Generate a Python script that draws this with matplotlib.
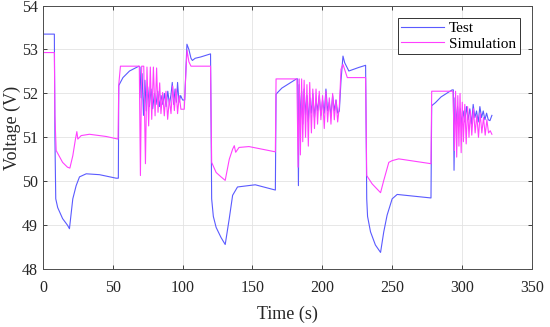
import matplotlib.pyplot as plt

plt.rcParams['font.family'] = ['Liberation Serif', 'DejaVu Serif']

test_t = [0, 8.2, 8.6, 9.2, 10.6, 14.1, 17.6, 19.0, 21.4, 23.8, 26.2, 31.0, 40.5, 52.4, 54.0,
          54.3, 57.3, 62.0, 68.7,
          69.5, 70.3, 71.0, 72.0, 73.0, 74.0, 75.0, 76.2, 77.4, 78.6, 79.8, 81.0, 82.2, 83.4,
          84.6, 85.8, 87.0, 88.2, 89.4, 90.6, 91.8, 92.6, 93.6, 94.6, 95.6, 96.4, 97.4, 98.6,
          100.0, 101.5,
          102.3, 103.1, 104.5, 106.0, 107.0, 109.0, 113.0, 117.0, 120.0,
          120.8, 122.0, 124.0, 127.5, 130.5, 133.4, 135.8, 139.3, 152.0, 166.4,
          166.9, 168.0, 171.0, 176.0, 181.5,
          182.4, 182.9, 183.5, 184.3, 185.2, 186.0, 187.0, 188.0, 189.0, 190.0,
          191.0, 192.2, 193.2, 194.4, 195.5, 196.6, 197.8, 199.0, 200.2, 201.4,
          202.6, 203.8, 205.0, 206.2, 207.4, 208.6, 209.8, 211.0, 212.2,
          213.4, 214.8, 216.0, 219.0, 226.0, 231.0,
          231.8, 232.4, 234.5, 238.0, 241.7, 244.0, 246.4, 250.0, 253.6, 259.5, 277.8,
          278.3, 281.0, 285.0, 289.0, 292.9,
          293.8, 294.3, 295.0, 295.8, 296.8, 297.8, 298.8, 299.8, 300.8, 302.0, 303.2, 304.4,
          305.6, 306.8, 308.0, 309.2, 310.4, 311.6, 312.8, 314.0, 315.2, 316.4, 317.6, 318.8,
          320.0, 321.4]
test_v = [53.35, 53.35, 51.0, 49.6, 49.4, 49.15, 49.0, 48.92, 49.6, 49.9, 50.1, 50.17, 50.15, 50.07, 50.07,
          52.18, 52.36, 52.51, 52.62,
          52.6, 51.9, 52.45, 51.5, 52.3, 51.6, 52.15, 51.7, 52.1, 51.65, 52.0, 51.75, 52.05, 51.7,
          51.95, 51.75, 52.0, 51.7, 52.05, 51.75, 52.0, 52.25, 51.75, 52.1, 51.8, 52.25, 51.8, 51.95,
          51.85, 51.85,
          52.5, 53.12, 53.0, 52.8, 52.75, 52.8, 52.83, 52.87, 52.9,
          49.6, 49.2, 48.95, 48.72, 48.56, 49.15, 49.68, 49.87, 49.92, 49.8,
          51.98, 52.02, 52.12, 52.22, 52.33,
          52.33, 49.9, 52.2, 51.4, 52.05, 51.3, 52.1, 51.5, 51.95, 51.35,
          51.9, 51.55, 52.0, 51.45, 51.85, 51.6, 51.95, 51.5, 51.85, 51.55,
          52.1, 51.6, 51.8, 51.5, 51.95, 51.6, 51.85, 51.55, 51.6,
          52.3, 52.85, 52.7, 52.51, 52.59, 52.64,
          49.6, 49.2, 48.85, 48.55, 48.38, 48.85, 49.23, 49.6, 49.7, 49.68, 49.62,
          51.72, 51.79, 51.92, 52.0, 52.08,
          52.08, 50.25, 51.9, 51.3, 51.7, 51.25, 51.65, 51.3, 51.6, 51.35, 51.7, 51.4,
          51.65, 51.3, 51.75, 51.45, 51.6, 51.35, 51.7, 51.45, 51.6, 51.4, 51.55, 51.4,
          51.38, 51.5]

# Simulation voltage
sim_t = [0, 8.2, 8.6, 9.5, 14.1, 17.6, 19.3, 21.4, 23.3, 24.3, 25.0, 27.4, 33.3, 45.2, 53.8,
         54.3, 55.5, 69.0,
         69.8, 70.7, 72.2, 73.4, 74.5, 75.7, 76.9, 77.9, 79.1, 80.3, 81.4, 82.4, 83.6, 84.5,
         85.7, 86.9, 88.1, 89.3, 90.5, 91.7, 92.9, 94.1, 95.3, 96.4, 97.6, 98.8, 101.2,
         102.5, 103.2, 104.5, 106.0, 120.0,
         120.8, 124.0, 127.5, 130.5, 133.4, 135.8, 137.0, 138.0, 140.4, 147.5, 166.4,
         166.9, 181.8,
         182.7, 183.5, 184.3, 185.2, 186.0, 187.0, 188.0, 189.0, 190.0, 191.0, 192.2, 193.2,
         194.4, 195.5, 196.6, 197.8, 199.0, 200.2, 201.4, 202.6, 203.8, 205.0, 206.2, 207.4,
         208.6, 209.8, 211.0, 212.2,
         213.4, 214.8, 217.9, 231.0,
         231.8, 232.4, 235.7, 241.7, 244.0, 247.6, 250.0, 254.7, 277.8,
         278.3, 293.5,
         294.6, 295.4, 296.2, 297.0, 297.8, 298.6, 299.4, 300.2, 301.0, 302.0, 303.0, 304.0,
         305.0, 306.0, 307.0, 308.2, 309.4, 310.6, 311.8, 313.0, 314.2, 315.4, 316.6, 317.8,
         319.0, 320.2, 321.4]
sim_v = [52.93, 52.93, 51.5, 50.7, 50.43, 50.32, 50.3, 50.58, 50.96, 51.13, 50.96, 51.04, 51.07, 51.02, 50.96,
         52.2, 52.62, 52.62,
         50.13, 52.62, 52.62, 50.4, 52.6, 51.26, 52.6, 51.41, 52.6, 51.49, 52.58, 51.57, 52.24, 51.54,
         52.02, 51.49, 52.05, 51.41, 51.87, 51.54, 52.17, 51.61, 52.1, 51.54, 51.95, 51.64, 51.64,
         52.6, 52.98, 52.72, 52.62, 52.62,
         50.43, 50.2, 50.1, 50.02, 50.5, 50.73, 50.81, 50.66, 50.77, 50.79, 50.67,
         52.33, 52.33,
         50.32, 52.33, 50.6, 52.33, 50.9, 52.3, 51.0, 52.2, 50.8, 52.25, 51.1, 52.1,
         51.2, 52.1, 51.3, 52.05, 51.4, 51.95, 51.2, 52.05, 51.35, 51.9, 51.3, 52.0,
         51.4, 51.85, 51.35, 51.7,
         52.55, 52.66, 52.36, 52.36,
         50.13, 50.1, 49.94, 49.74, 50.02, 50.43, 50.47, 50.51, 50.4,
         52.05, 52.05,
         50.7, 52.05, 50.55, 51.95, 50.8, 52.0, 50.65, 51.8, 50.9, 51.75, 50.85, 51.7,
         51.0, 51.6, 51.05, 51.65, 51.1, 51.5, 51.0, 51.55, 51.1, 51.45, 51.05, 51.4,
         51.1, 51.15, 51.07]

fig, ax = plt.subplots(figsize=(5.5, 3.27), dpi=100)
fig.subplots_adjust(left=0.078, right=0.967, bottom=0.177, top=0.983)

ax.plot(test_t, test_v, color='#5a5aff', lw=0.8, label='Test')
ax.plot(sim_t, sim_v, color='#ff40ff', lw=0.8, label='Simulation')

ax.set_xlim(0, 350)
ax.set_ylim(48, 54)
ax.set_xticks(range(0, 351, 50))
ax.set_yticks(range(48, 55))
ax.grid(True, color='#e3e3e3', lw=0.6)
ax.set_axisbelow(True)
ax.tick_params(direction='in', top=True, right=True, labelsize=11.5, colors='#262626',
               length=3, width=0.6)
ax.tick_params(axis='x', pad=8)
for s in ax.spines.values():
    s.set_color('#4d4d4d')
    s.set_linewidth(0.7)

ax.set_xlabel('Time (s)', fontsize=13, color='#262626')
ax.set_ylabel('Voltage (V)', fontsize=13, color='#262626')
ax.xaxis.set_label_coords(0.501, -0.14)
ax.yaxis.set_label_coords(-0.045, 0.535)

leg = ax.legend(loc='upper right', fontsize=11, handlelength=2.8, fancybox=False,
                borderaxespad=0.8, borderpad=0.25, labelspacing=0.1, handletextpad=0.3,
                framealpha=1)
leg.get_frame().set_edgecolor('#333333')
leg.get_frame().set_linewidth(0.7)

plt.savefig('out.png', dpi=100)
